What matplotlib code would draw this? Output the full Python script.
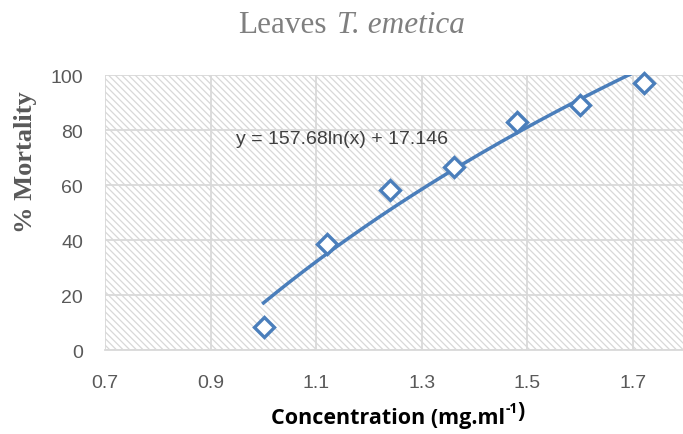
import numpy as np
import matplotlib
matplotlib.use("Agg")
import matplotlib.pyplot as plt

# data
conc = [1.0, 1.12, 1.24, 1.36, 1.48, 1.60, 1.72]
mortality = [8.5, 38.5, 58.2, 66.4, 83.0, 89.0, 97.3]
slope, intercept = 157.68, 17.146
x_ticks = [0.7, 0.9, 1.1, 1.3, 1.5, 1.7]
y_ticks = [0, 20, 40, 60, 80, 100]

plt.rcParams['hatch.color'] = '#d8d8d8'
plt.rcParams['hatch.linewidth'] = 0.9

fig = plt.figure(figsize=(6.83, 4.35), dpi=100)
ax = fig.add_axes([0.154, 0.193, 0.85, 0.632])

# hatched plot area
ax.patch.set_facecolor('white')
ax.patch.set_hatch('\\\\\\\\\\')
ax.patch.set_edgecolor('#d8d8d8')
ax.patch.set_linewidth(0)

ax.set_xlim(0.7, 1.8)
ax.set_ylim(0, 100)
ax.set_xticks(x_ticks)
ax.set_yticks(y_ticks)
ax.set_xticklabels([f"{t:.1f}" for t in x_ticks])
ax.grid(True, color='#d9d9d9', linewidth=1.3)
ax.set_axisbelow(True)
for s in ['top', 'right', 'left']:
    ax.spines[s].set_visible(False)
ax.spines['bottom'].set_color('#d9d9d9')
ax.spines['bottom'].set_linewidth(1.3)
ax.tick_params(length=0, labelsize=14, labelcolor='#595959')
ax.tick_params(axis='x', pad=17)
ax.tick_params(axis='y', pad=16)
for lab in ax.get_xticklabels() + ax.get_yticklabels():
    lab.set_family('Liberation Sans')

# log trendline
xf = np.linspace(min(conc), max(conc), 200)
yf = slope * np.log(xf) + intercept
ax.plot(xf, yf, color='#4a7ebb', linewidth=2.5, zorder=3)
ax.plot(conc, mortality, linestyle='none', marker='D', markersize=10,
        markerfacecolor='white', markeredgecolor='#4a7ebb',
        markeredgewidth=2.4, zorder=4, clip_on=False)

ax.text(0.948, 77, f"y = {slope}ln(x) + {intercept}", fontsize=14,
        color='#404040', family='Liberation Sans', va='center', ha='left')

# title: roman + italic parts
fig.text(0.348, 0.924, 'Leaves', fontsize=22.5, color='#7f7f7f',
         family='Liberation Serif', ha='left', va='baseline')
fig.text(0.681, 0.924, 'T. emetica', fontsize=22.5, color='#7f7f7f',
         family='Liberation Serif', style='italic', ha='right', va='baseline')

fig.text(0.037, 0.628, '% Mortality', fontsize=19, fontweight='bold',
         family='Liberation Serif', color='#595959', rotation=90,
         ha='center', va='center')

# x label with superscript
xl = fig.text(0.74, 0.037, 'Concentration (mg.ml', fontsize=15.5,
              fontweight='bold', family='Open Sans', color='black',
              ha='right', va='center')
sup = ax.annotate('-1', xy=(1, 0.62), xycoords=xl, fontsize=10,
                  fontweight='bold', family='Open Sans', color='black',
                  ha='left', va='bottom', annotation_clip=False)
ax.annotate(')', xy=(1, 0.38), xycoords=sup, fontsize=15.5,
            fontweight='bold', family='Open Sans', color='black',
            ha='left', va='center', annotation_clip=False)

fig.savefig('out.png', dpi=100)
